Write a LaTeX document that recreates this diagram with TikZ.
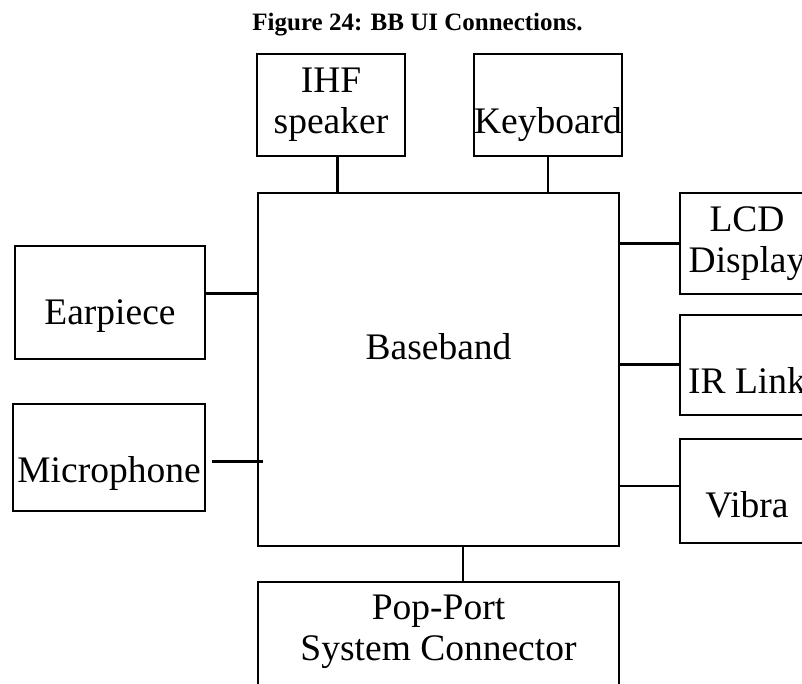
\documentclass[tikz,border=0pt]{standalone}
\usepackage{fontspec}
\setmainfont{Liberation Serif}
\newcommand{\boxfont}{\fontsize{37.5}{41}\selectfont}
\tikzset{
  blk/.style={draw, line width=2pt, inner sep=0pt, align=center, font=\boxfont},
  wire/.style={line width=2.2pt},
  every label/.style={font=\boxfont, inner sep=0pt, align=center},
}
\begin{document}
\begin{tikzpicture}[x=1pt, y=-1pt]
            \useasboundingbox (0,0) rectangle (802,684);
            \clip (0,0) rectangle (802,684);
            \node[font=\bfseries\fontsize{25}{30}\selectfont, anchor=base] (title) at (417.5,30.5) {Figure 24: BB UI Connections.};
            \node[blk, minimum width=361, minimum height=353, label={[name=bbtxt, yshift=23pt]center:Baseband}] (bb) at (438.5,369.5) {};
            \node[blk, minimum width=148, minimum height=102] (ihf) at (331,105) {IHF\\speaker};
            \node[blk, minimum width=148, minimum height=102, label={[name=kbdtxt, yshift=-19.5pt]center:Keyboard}] (kbd) at (548,105) {};
            \node[blk, minimum width=190, minimum height=112, label={[name=eartxt, yshift=-14pt]center:Earpiece}] (ear) at (110,302.5) {};
            \node[blk, minimum width=192, minimum height=107, label={[name=mictxt, yshift=-16pt]center:Microphone}] (mic) at (109,457) {};
            \node[blk, minimum width=134, minimum height=101] (lcd) at (747,243.5) {LCD\\Display};
            \node[blk, minimum width=134, minimum height=100, label={[name=irtxt, yshift=-16pt]center:IR Link}] (ir) at (747,364.5) {};
            \node[blk, minimum width=134, minimum height=104, label={[name=vibtxt, yshift=-14pt]center:Vibra}] (vib) at (747,490.5) {};
            \node[blk, minimum width=361, minimum height=138, label={[name=poptxt, yshift=19pt]center:Pop-Port\\System Connector}] (pop) at (438.5,651) {};
            \coordinate (ihfp) at ([xshift=6.5pt]ihf.south);
            \coordinate (earp) at ([yshift=9pt]ear.east);
            \coordinate (micp) at (212,461.5);
            \coordinate (micq) at (263,461.5);
            \coordinate (vibp) at ([yshift=4.5pt]vib.west);
            \coordinate (popp) at ([xshift=24.5pt]pop.north);
            \draw[wire] (ihfp) -- (ihfp |- bb.north);
            \draw[wire] (kbd.south) -- (kbd.south |- bb.north);
            \draw[wire] (earp) -- (earp -| bb.west);
            \draw[wire] (micp) -- (micq);
            \draw[wire] (lcd.west -| bb.east) -- (lcd.west);
            \draw[wire] (ir.west -| bb.east) -- (ir.west);
            \draw[wire] (vibp -| bb.east) -- (vibp);
            \draw[wire] (popp) -- (popp |- bb.south);
        \end{tikzpicture}
\end{document}
